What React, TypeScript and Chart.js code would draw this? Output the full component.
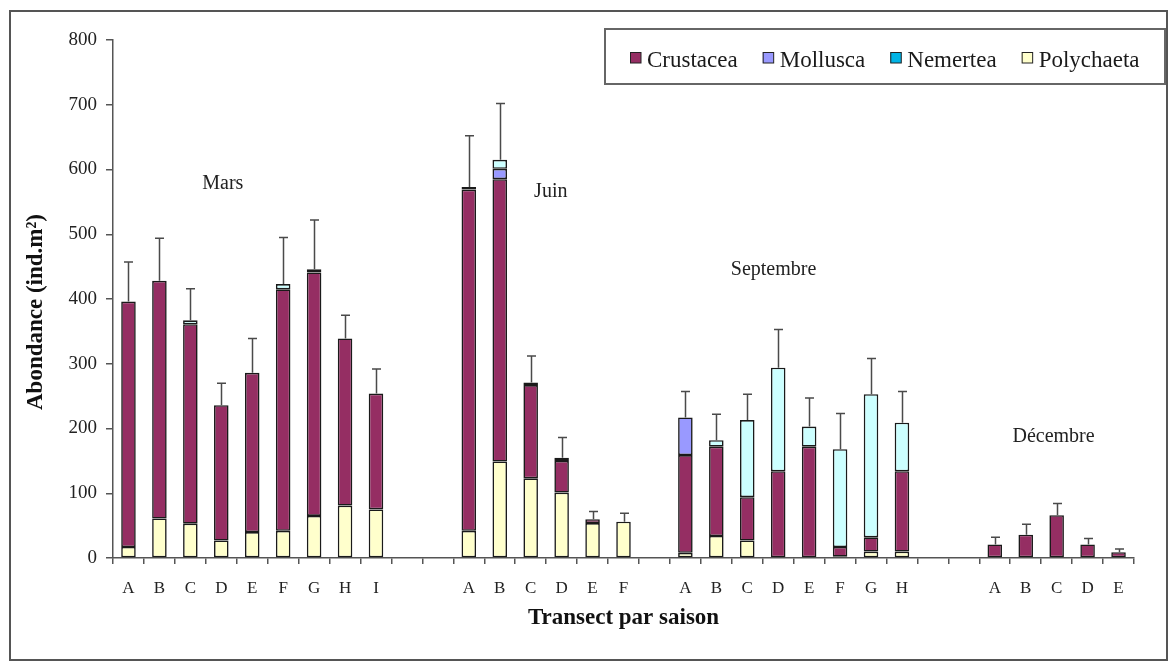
import React, { useEffect, useRef } from 'react';
import { Chart, registerables } from 'chart.js';

Chart.register(...registerables);

// ---------- DATA ----------
const categories = [
  'A', 'B', 'C', 'D', 'E', 'F', 'G', 'H', 'I', '', '',
  'A', 'B', 'C', 'D', 'E', 'F', '',
  'A', 'B', 'C', 'D', 'E', 'F', 'G', 'H', '', '',
  'A', 'B', 'C', 'D', 'E',
];

const polychaeta = [
  17, 61, 53, 27, 40, 42, 65, 81, 75, null, null,
  42, 149, 123, 101, 54, 56, null,
  8, 34, 27, null, null, 2, 10, 10, null, null,
  null, null, null, null, null,
];

const crustacea = [
  379, 367, 308, 209, 246, 373, 376, 258, 179, null, null,
  527, 436, 144, 49, 6, null, null,
  151, 138, 67, 134, 172, 15, 22, 124, null, null,
  21, 36, 66, 21, 9,
];

const mollusca = [
  null, null, null, null, null, null, null, null, null, null, null,
  null, 16, null, null, null, null, null,
  58, null, null, null, null, null, null, null, null, null,
  null, null, null, null, null,
];

const nemertea = [
  null, null, 6, null, null, 8, 5, null, null, null, null,
  4, 14, 4, 5, null, null, null,
  null, 10, 119, 160, 31, 151, 221, 75, null, null,
  null, null, null, null, null,
];

const errorPlus = [
  61, 66, 49, 34, 53, 72, 76, 36, 38, null, null,
  79, 87, 41, 31, 12, 13, null,
  40, 40, 40, 59, 44, 55, 55, 48, null, null,
  11, 16, 18, 9, 5,
];

const seriesNames = ['Crustacea', 'Mollusca', 'Nemertea', 'Polychaeta'];
const barColors = ['#952E63', '#9999FF', '#CCFFFF', '#FFFFCC'];
const legendColors = ['#952E63', '#9999FF', '#00B4E6', '#FFFFCC'];

const seasonNames = ['Mars', 'Juin', 'Septembre', 'Décembre'];
const seasonLabelIndex = [3.05, 13.65, 20.85, 29.9];
const seasonLabelValue = [578, 566, 445, 187];

const yTicks = [0, 100, 200, 300, 400, 500, 600, 700, 800];

const FONT = "'Liberation Serif', 'Times New Roman', Times, serif";

// ---------- PLUGINS ----------
const framePlugin = {
  id: 'frame',
  beforeDraw(chart: any) {
    const ctx = chart.ctx;
    ctx.save();
    ctx.fillStyle = '#ffffff';
    ctx.fillRect(0, 0, chart.width, chart.height);
    ctx.restore();
  },
  afterDraw(chart: any) {
    const ctx = chart.ctx;
    ctx.save();
    ctx.strokeStyle = '#555555';
    ctx.lineWidth = 2;
    ctx.strokeRect(10, 11, chart.width - 13, chart.height - 13);
    ctx.restore();
  },
};

const errorBarPlugin = {
  id: 'errorBars',
  afterDatasetsDraw(chart: any) {
    const ctx = chart.ctx;
    const x = chart.scales.x;
    const y = chart.scales.y;
    ctx.save();
    ctx.strokeStyle = '#4a4a4a';
    ctx.lineWidth = 1.5;
    errorPlus.forEach((e, i) => {
      if (e == null) return;
      const total =
        (polychaeta[i] || 0) + (crustacea[i] || 0) + (mollusca[i] || 0) + (nemertea[i] || 0);
      const px = Math.round(x.getPixelForValue(i)) + 0.5;
      const y0 = y.getPixelForValue(total);
      const y1 = y.getPixelForValue(total + e);
      ctx.beginPath();
      ctx.moveTo(px, y0);
      ctx.lineTo(px, y1);
      ctx.moveTo(px - 4.5, y1);
      ctx.lineTo(px + 4.5, y1);
      ctx.stroke();
    });
    ctx.restore();
  },
};

const annotationsPlugin = {
  id: 'annotations',
  afterDraw(chart: any) {
    const ctx = chart.ctx;
    const x = chart.scales.x;
    const y = chart.scales.y;
    ctx.save();
    // season labels
    ctx.fillStyle = '#222222';
    ctx.font = `20px ${FONT}`;
    ctx.textAlign = 'center';
    ctx.textBaseline = 'middle';
    seasonNames.forEach((name, k) => {
      ctx.fillText(name, x.getPixelForValue(seasonLabelIndex[k]), y.getPixelForValue(seasonLabelValue[k]));
    });

    // y axis title
    ctx.save();
    ctx.translate(36, 312);
    ctx.rotate(-Math.PI / 2);
    ctx.font = `bold 23px ${FONT}`;
    ctx.fillStyle = '#111111';
    ctx.textAlign = 'center';
    ctx.textBaseline = 'middle';
    ctx.fillText('Abondance (ind.m²)', 0, 0);
    ctx.restore();

    // legend box
    const bx = 605, by = 29, bw = 560, bh = 55;
    ctx.strokeStyle = '#666666';
    ctx.lineWidth = 2;
    ctx.fillStyle = '#ffffff';
    ctx.fillRect(bx, by, bw, bh);
    ctx.strokeRect(bx, by, bw, bh);

    ctx.font = `23px ${FONT}`;
    ctx.textAlign = 'left';
    ctx.textBaseline = 'alphabetic';
    let cx = 630;
    seriesNames.forEach((name, k) => {
      ctx.fillStyle = legendColors[k];
      ctx.fillRect(cx, 52, 11, 11);
      ctx.strokeStyle = '#222222';
      ctx.lineWidth = 1;
      ctx.strokeRect(cx + 0.5, 52.5, 10.5, 10.5);
      ctx.fillStyle = '#1a1a1a';
      ctx.fillText(name, cx + 17, 67);
      cx += 17 + ctx.measureText(name).width + 25;
    });
    ctx.restore();
  },
};

// ---------- COMPONENT ----------
export default function App() {
  const canvasRef = useRef<HTMLCanvasElement | null>(null);

  useEffect(() => {
    if (!canvasRef.current) return;
    Chart.defaults.font.family = FONT;
    const mk = (label: string, data: (number | null)[], idx: number) => ({
      label,
      data,
      backgroundColor: barColors[idx],
      borderColor: '#1a1a1a',
      borderWidth: 1.6,
      borderSkipped: false,
      barPercentage: 0.47,
      categoryPercentage: 1,
    });
    const chart = new Chart(canvasRef.current, {
      type: 'bar',
      data: {
        labels: categories,
        datasets: [
          mk('Polychaeta', polychaeta, 3),
          mk('Crustacea', crustacea, 0),
          mk('Mollusca', mollusca, 1),
          mk('Nemertea', nemertea, 2),
        ],
      },
      options: {
        animation: false,
        responsive: false,
        layout: { padding: { left: 0, right: 36, top: 40, bottom: 0 } },
        plugins: {
          legend: { display: false },
          tooltip: { enabled: false },
          title: { display: false },
        },
        scales: {
          x: {
            stacked: true,
            offset: true,
            grid: {
              display: true,
              drawOnChartArea: false,
              drawTicks: true,
              tickLength: 6,
              color: '#555555',
              lineWidth: 1.5,
              offset: true,
            },
            border: { display: true, color: '#555555', width: 1.5 },
            ticks: {
              autoSkip: false,
              maxRotation: 0,
              minRotation: 0,
              padding: 14,
              color: '#222222',
              font: { size: 17, family: FONT },
            },
            title: {
              display: true,
              text: 'Transect par saison',
              color: '#111111',
              font: { size: 23, weight: 'bold', family: FONT },
              padding: { top: 0, bottom: 30 },
            },
            afterFit(scale: any) {
              scale.height = 104;
            },
          },
          y: {
            stacked: true,
            min: 0,
            max: 800,
            afterBuildTicks(scale: any) {
              scale.ticks = yTicks.map((v) => ({ value: v }));
            },
            grid: {
              display: true,
              drawOnChartArea: false,
              drawTicks: true,
              tickLength: 7,
              color: '#555555',
              lineWidth: 1.5,
            },
            border: { display: true, color: '#555555', width: 1.5 },
            ticks: {
              padding: 9,
              color: '#222222',
              font: { size: 19, family: FONT },
            },
            afterFit(scale: any) {
              scale.width = 113;
            },
          },
        },
      },
      plugins: [framePlugin, errorBarPlugin, annotationsPlugin],
    } as any);
    return () => chart.destroy();
  }, []);

  return (
    <div style={{ position: 'fixed', left: 0, top: 0, width: 1170, height: 662, background: '#fff' }}>
      <canvas ref={canvasRef} width={1170} height={662} style={{ display: 'block' }} />
    </div>
  );
}
